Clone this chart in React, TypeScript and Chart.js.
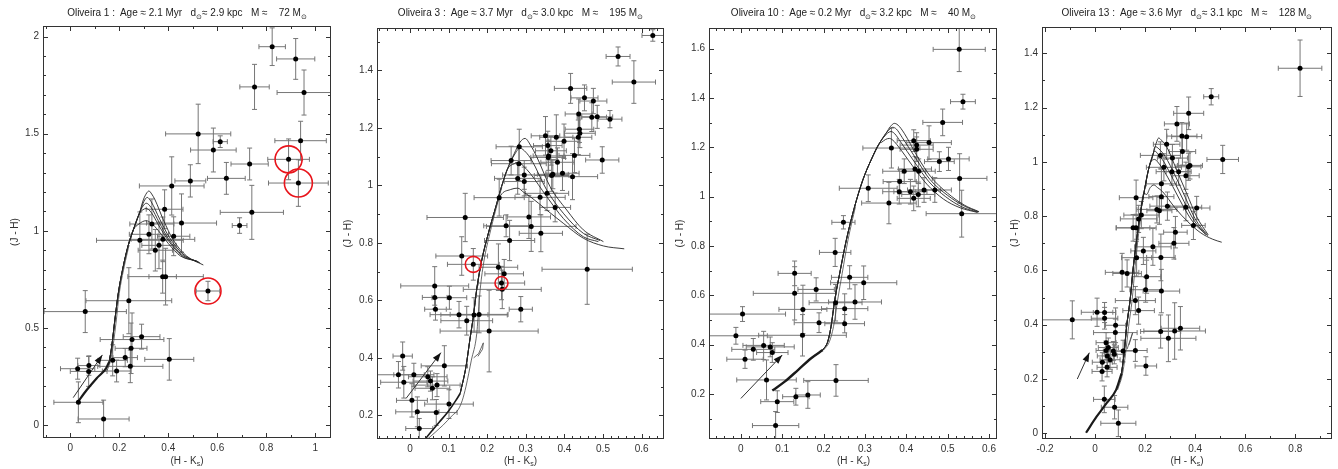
import React, { useEffect, useRef } from "react";
import { Chart, registerables } from "chart.js";
Chart.register(...registerables);

type Pt = [number, number];
const H = 469;
const FONT = '"Liberation Sans", Arial, sans-serif';

// ---------------- Oliveira 1 ----------------
const P1_HK = [0.824, 0.920, 0.752, 0.954, 0.522, 0.612, 0.584, 0.940, 0.891, 0.732, 0.931, 0.637, 0.490, 0.414, 0.741, 0.691, 0.385, 0.454, 0.333, 0.321, 0.422, 0.284, 0.378, 0.362, 0.347, 0.377, 0.389, 0.562, 0.239, 0.061, 0.291, 0.252, 0.248, 0.224, 0.404, 0.173, 0.189, 0.245, 0.076, 0.030, 0.075, 0.033, 0.136];
const P1_JH = [1.948, 1.885, 1.741, 1.712, 1.499, 1.459, 1.416, 1.464, 1.368, 1.344, 1.246, 1.270, 1.257, 1.231, 1.095, 1.027, 1.111, 1.040, 1.035, 0.982, 0.972, 0.951, 0.956, 0.925, 0.900, 0.764, 0.764, 0.690, 0.640, 0.584, 0.455, 0.440, 0.395, 0.347, 0.338, 0.333, 0.278, 0.302, 0.306, 0.290, 0.276, 0.117, 0.031];
const P1_EHK = [0.054, 0.078, 0.060, 0.110, 0.133, 0.029, 0.093, 0.105, 0.085, 0.076, 0.122, 0.077, 0.063, 0.132, 0.129, 0.030, 0.075, 0.143, 0.090, 0.080, 0.066, 0.177, 0.130, 0.070, 0.070, 0.056, 0.154, 0.048, 0.175, 0.168, 0.075, 0.130, 0.065, 0.050, 0.100, 0.060, 0.058, 0.133, 0.045, 0.070, 0.075, 0.100, 0.104];
const P1_EJH = [0.097, 0.105, 0.116, 0.116, 0.153, 0.030, 0.113, 0.100, 0.105, 0.082, 0.120, 0.082, 0.083, 0.150, 0.139, 0.040, 0.100, 0.150, 0.129, 0.100, 0.100, 0.146, 0.115, 0.120, 0.107, 0.085, 0.146, 0.050, 0.170, 0.108, 0.064, 0.137, 0.130, 0.047, 0.107, 0.080, 0.056, 0.084, 0.050, 0.054, 0.077, 0.105, 0.097];
const P1_RED_HK = [0.891, 0.931, 0.562];
const P1_RED_JH = [1.368, 1.246, 0.690];
const P1_ARROW_HK = [0.012, 0.131];
const P1_ARROW_JH = [0.141, 0.361];
const P1_ISO_LOW: Pt[] = [[0.030, 0.117], [0.067, 0.180], [0.107, 0.240], [0.146, 0.292], [0.159, 0.326]];
const P1_ISO_STEEP: Pt[] = [[0.159, 0.326], [0.169, 0.403], [0.182, 0.541], [0.196, 0.678], [0.216, 0.815], [0.237, 0.927], [0.257, 1.004], [0.282, 1.090]];
const P1_ISO_BAND: Pt[] = [[0.150, 0.280], [0.163, 0.326], [0.174, 0.403], [0.188, 0.541], [0.200, 0.678], [0.220, 0.815], [0.240, 0.927]];
const P1_ISO_1: Pt[] = [[0.298, 1.159], [0.312, 1.195], [0.321, 1.205], [0.332, 1.190], [0.346, 1.159], [0.380, 1.056], [0.420, 0.953], [0.475, 0.870], [0.543, 0.824]];
const P1_ISO_2: Pt[] = [[0.300, 1.150], [0.314, 1.172], [0.330, 1.150], [0.365, 1.060], [0.405, 0.965], [0.460, 0.880], [0.530, 0.834]];
const P1_ISO_3: Pt[] = [[0.297, 1.128], [0.310, 1.142], [0.330, 1.120], [0.362, 1.045], [0.400, 0.960], [0.455, 0.878], [0.525, 0.838]];
const P1_ISO_4: Pt[] = [[0.296, 1.108], [0.310, 1.115], [0.330, 1.095], [0.360, 1.030], [0.400, 0.950], [0.455, 0.872], [0.520, 0.842]];
const P1_ISO_5: Pt[] = [[0.280, 1.035], [0.309, 1.052], [0.330, 1.040], [0.360, 1.000], [0.400, 0.935], [0.450, 0.870], [0.515, 0.845]];
const P1_XTICKS = [0, 0.2, 0.4, 0.6, 0.8, 1];
const P1_YTICKS = [0, 0.5, 1, 1.5, 2];

// ---------------- Oliveira 3 ----------------
const P2_HK = [0.629, 0.539, 0.580, 0.416, 0.452, 0.475, 0.437, 0.471, 0.485, 0.518, 0.439, 0.440, 0.436, 0.351, 0.379, 0.357, 0.399, 0.283, 0.365, 0.359, 0.358, 0.426, 0.498, 0.262, 0.382, 0.282, 0.370, 0.367, 0.395, 0.421, 0.296, 0.279, 0.296, 0.231, 0.337, 0.355, 0.376, 0.143, 0.308, 0.314, 0.249, 0.339, 0.258, 0.134, 0.164, 0.459, 0.229, 0.244, 0.237, 0.239, 0.064, 0.064, 0.102, 0.066, 0.287, 0.127, 0.166, 0.179, 0.147, 0.205, -0.019, -0.030, 0.010, -0.016, 0.089, 0.046, 0.053, 0.058, 0.070, 0.005, 0.101, 0.019, 0.068, 0.024];
const P2_JH = [1.521, 1.448, 1.359, 1.337, 1.304, 1.293, 1.248, 1.237, 1.238, 1.230, 1.195, 1.181, 1.167, 1.172, 1.167, 1.138, 1.153, 1.134, 1.120, 1.102, 1.097, 1.104, 1.088, 1.086, 1.080, 1.075, 1.038, 1.034, 1.042, 1.030, 1.036, 1.024, 1.013, 0.957, 0.958, 0.972, 0.923, 0.888, 0.890, 0.857, 0.859, 0.833, 0.808, 0.754, 0.725, 0.708, 0.715, 0.692, 0.660, 0.638, 0.650, 0.610, 0.609, 0.569, 0.569, 0.550, 0.549, 0.551, 0.529, 0.493, 0.406, 0.341, 0.341, 0.315, 0.372, 0.334, 0.319, 0.294, 0.305, 0.252, 0.239, 0.212, 0.210, 0.154];
const P2_EHK = [0.028, 0.031, 0.056, 0.042, 0.035, 0.035, 0.035, 0.038, 0.040, 0.031, 0.037, 0.040, 0.035, 0.037, 0.043, 0.037, 0.041, 0.060, 0.040, 0.040, 0.045, 0.040, 0.043, 0.052, 0.043, 0.071, 0.040, 0.045, 0.043, 0.065, 0.056, 0.060, 0.052, 0.065, 0.065, 0.056, 0.040, 0.099, 0.056, 0.116, 0.058, 0.056, 0.065, 0.067, 0.067, 0.117, 0.050, 0.050, 0.060, 0.101, 0.088, 0.032, 0.045, 0.028, 0.030, 0.075, 0.086, 0.075, 0.067, 0.127, 0.025, 0.067, 0.052, 0.060, 0.060, 0.050, 0.045, 0.045, 0.060, 0.040, 0.063, 0.056, 0.054, 0.035];
const P2_EJH = [0.020, 0.033, 0.074, 0.052, 0.045, 0.044, 0.052, 0.050, 0.040, 0.030, 0.046, 0.050, 0.060, 0.067, 0.078, 0.050, 0.060, 0.061, 0.050, 0.050, 0.060, 0.060, 0.046, 0.050, 0.050, 0.058, 0.050, 0.055, 0.060, 0.080, 0.050, 0.055, 0.050, 0.064, 0.060, 0.060, 0.050, 0.084, 0.075, 0.087, 0.038, 0.064, 0.070, 0.067, 0.055, 0.122, 0.081, 0.050, 0.058, 0.067, 0.067, 0.040, 0.040, 0.038, 0.044, 0.046, 0.060, 0.064, 0.050, 0.142, 0.049, 0.046, 0.040, 0.055, 0.070, 0.035, 0.035, 0.040, 0.040, 0.058, 0.050, 0.052, 0.045, 0.035];
const P2_RED_HK = [0.164, 0.237];
const P2_RED_JH = [0.725, 0.660];
const P2_ARROW_HK = [-0.010, 0.080];
const P2_ARROW_JH = [0.259, 0.418];
const P2_ISO_LOW: Pt[] = [[0.039, 0.117], [0.075, 0.175], [0.100, 0.215], [0.118, 0.250], [0.130, 0.276]];
const P2_ISO_STEEP: Pt[] = [[0.130, 0.276], [0.145, 0.369], [0.155, 0.462], [0.164, 0.543], [0.173, 0.640], [0.186, 0.740], [0.203, 0.833], [0.220, 0.914], [0.237, 0.995], [0.255, 1.065]];
const P2_ISO_BAND: Pt[] = [[0.045, 0.117], [0.085, 0.165], [0.110, 0.200], [0.125, 0.220], [0.135, 0.250], [0.145, 0.300], [0.159, 0.392], [0.173, 0.485], [0.177, 0.555], [0.182, 0.640], [0.192, 0.740], [0.207, 0.833], [0.222, 0.914], [0.238, 0.995]];
const P2_ISO_HOOK: Pt[] = [[0.165, 0.400], [0.178, 0.415], [0.190, 0.452], [0.188, 0.430], [0.176, 0.405]];
const P2_ISO_1: Pt[] = [[0.270, 1.110], [0.285, 1.150], [0.298, 1.163], [0.312, 1.140], [0.328, 1.100], [0.363, 0.995], [0.406, 0.914], [0.449, 0.845], [0.501, 0.804]];
const P2_ISO_2: Pt[] = [[0.270, 1.105], [0.285, 1.129], [0.300, 1.115], [0.315, 1.088], [0.354, 0.984], [0.397, 0.903], [0.449, 0.833], [0.492, 0.808]];
const P2_ISO_3: Pt[] = [[0.252, 1.055], [0.270, 1.075], [0.283, 1.079], [0.295, 1.065], [0.311, 1.042], [0.354, 0.961], [0.397, 0.885], [0.449, 0.821], [0.488, 0.804]];
const P2_ISO_4: Pt[] = [[0.235, 0.965], [0.260, 0.985], [0.279, 0.990], [0.295, 0.975], [0.311, 0.961], [0.354, 0.914], [0.397, 0.868], [0.449, 0.816], [0.501, 0.789], [0.555, 0.779]];
const P2_XTICKS = [0, 0.1, 0.2, 0.3, 0.4, 0.5, 0.6];
const P2_YTICKS = [0.2, 0.4, 0.6, 0.8, 1, 1.2, 1.4];

// ---------------- Oliveira 10 ----------------
const P3_HK = [0.528, 0.537, 0.488, 0.364, 0.418, 0.425, 0.425, 0.455, 0.502, 0.480, 0.421, 0.430, 0.395, 0.529, 0.308, 0.384, 0.410, 0.383, 0.418, 0.429, 0.443, 0.469, 0.358, 0.534, 0.248, 0.228, 0.130, 0.130, 0.263, 0.297, 0.182, 0.276, 0.150, 0.229, 0.251, 0.251, 0.189, 0.149, 0.004, -0.012, 0.055, 0.071, 0.030, 0.076, 0.010, 0.062, 0.230, 0.162, 0.133, 0.088, 0.084];
const P3_JH = [1.597, 1.385, 1.301, 1.197, 1.227, 1.209, 1.192, 1.219, 1.153, 1.142, 1.112, 1.103, 1.103, 1.074, 1.034, 1.061, 1.020, 1.020, 0.993, 1.009, 1.027, 1.027, 0.974, 0.931, 0.896, 0.774, 0.689, 0.608, 0.673, 0.651, 0.624, 0.573, 0.543, 0.570, 0.546, 0.485, 0.489, 0.438, 0.524, 0.436, 0.397, 0.391, 0.381, 0.368, 0.341, 0.257, 0.255, 0.196, 0.189, 0.169, 0.072];
const P3_EHK = [0.063, 0.030, 0.048, 0.069, 0.040, 0.040, 0.040, 0.054, 0.050, 0.036, 0.040, 0.040, 0.052, 0.066, 0.070, 0.040, 0.040, 0.040, 0.040, 0.040, 0.040, 0.040, 0.066, 0.086, 0.028, 0.038, 0.040, 0.100, 0.044, 0.080, 0.044, 0.064, 0.058, 0.064, 0.056, 0.048, 0.060, 0.106, 0.104, 0.076, 0.050, 0.058, 0.052, 0.038, 0.044, 0.072, 0.078, 0.030, 0.032, 0.040, 0.056];
const P3_EJH = [0.090, 0.030, 0.054, 0.081, 0.044, 0.050, 0.050, 0.068, 0.047, 0.040, 0.050, 0.050, 0.050, 0.100, 0.054, 0.050, 0.050, 0.050, 0.050, 0.050, 0.050, 0.050, 0.084, 0.095, 0.027, 0.057, 0.050, 0.108, 0.047, 0.068, 0.047, 0.070, 0.098, 0.074, 0.060, 0.037, 0.040, 0.084, 0.030, 0.034, 0.057, 0.040, 0.044, 0.040, 0.037, 0.081, 0.064, 0.054, 0.034, 0.044, 0.057];
const P3_ARROW_HK = [0.000, 0.100];
const P3_ARROW_JH = [0.182, 0.358];
const P3_ISO_LOW: Pt[] = [[0.076, 0.214], [0.106, 0.250], [0.138, 0.297], [0.170, 0.345], [0.198, 0.378]];
const P3_ISO_STEEP: Pt[] = [[0.198, 0.378], [0.210, 0.412], [0.218, 0.473], [0.227, 0.581], [0.239, 0.689], [0.255, 0.824], [0.275, 0.959], [0.295, 1.068], [0.315, 1.149], [0.335, 1.216], [0.351, 1.257]];
const P3_ISO_BAND: Pt[] = [[0.200, 0.378], [0.214, 0.412], [0.224, 0.473], [0.234, 0.581], [0.245, 0.689], [0.259, 0.824], [0.277, 0.959]];
const P3_ISO_1: Pt[] = [[0.362, 1.285], [0.371, 1.297], [0.380, 1.290], [0.395, 1.257], [0.427, 1.162], [0.459, 1.081], [0.500, 1.014], [0.540, 0.966], [0.576, 0.939]];
const P3_ISO_2: Pt[] = [[0.360, 1.274], [0.367, 1.281], [0.376, 1.274], [0.390, 1.240], [0.425, 1.150], [0.457, 1.070], [0.500, 1.005], [0.540, 0.962], [0.575, 0.938]];
const P3_ISO_3: Pt[] = [[0.345, 1.240], [0.355, 1.258], [0.363, 1.264], [0.372, 1.255], [0.385, 1.225], [0.420, 1.140], [0.455, 1.060], [0.495, 1.000], [0.535, 0.958], [0.573, 0.937]];
const P3_ISO_4: Pt[] = [[0.340, 1.220], [0.350, 1.232], [0.359, 1.236], [0.368, 1.228], [0.380, 1.205], [0.415, 1.125], [0.450, 1.050], [0.490, 0.990], [0.530, 0.955], [0.572, 0.936]];
const P3_XTICKS = [0, 0.1, 0.2, 0.3, 0.4, 0.5, 0.6];
const P3_YTICKS = [0.2, 0.4, 0.6, 0.8, 1, 1.2, 1.4, 1.6];

// ---------------- Oliveira 13 ----------------
const P4_HK = [0.819, 0.464, 0.374, 0.327, 0.347, 0.366, 0.286, 0.349, 0.261, 0.309, 0.510, 0.379, 0.373, 0.275, 0.307, 0.334, 0.363, 0.265, 0.164, 0.265, 0.247, 0.257, 0.289, 0.363, 0.406, 0.185, 0.174, 0.152, 0.164, 0.393, 0.321, 0.315, 0.231, 0.166, 0.193, 0.263, 0.108, 0.128, 0.206, 0.202, 0.265, 0.161, 0.174, -0.091, 0.008, 0.038, 0.038, 0.082, 0.081, 0.044, 0.262, 0.318, 0.341, 0.293, 0.053, 0.044, 0.073, 0.112, 0.161, 0.077, 0.049, 0.060, 0.029, 0.048, 0.028, 0.203, 0.037, 0.078, 0.093];
const P4_JH = [1.345, 1.240, 1.179, 1.140, 1.095, 1.093, 1.065, 1.038, 1.024, 1.014, 1.009, 0.987, 0.982, 0.980, 0.964, 0.964, 0.949, 0.919, 0.868, 0.872, 0.825, 0.820, 0.837, 0.833, 0.830, 0.804, 0.790, 0.757, 0.757, 0.766, 0.741, 0.700, 0.687, 0.647, 0.672, 0.648, 0.593, 0.589, 0.577, 0.529, 0.524, 0.489, 0.452, 0.418, 0.446, 0.445, 0.424, 0.398, 0.371, 0.334, 0.375, 0.377, 0.387, 0.350, 0.316, 0.305, 0.303, 0.303, 0.305, 0.291, 0.285, 0.271, 0.262, 0.243, 0.228, 0.248, 0.125, 0.096, 0.037];
const P4_EHK = [0.087, 0.030, 0.060, 0.050, 0.060, 0.060, 0.053, 0.053, 0.080, 0.060, 0.063, 0.050, 0.050, 0.070, 0.063, 0.050, 0.053, 0.060, 0.067, 0.050, 0.080, 0.050, 0.070, 0.063, 0.053, 0.070, 0.073, 0.067, 0.080, 0.047, 0.047, 0.060, 0.073, 0.060, 0.050, 0.057, 0.067, 0.057, 0.057, 0.063, 0.073, 0.080, 0.063, 0.130, 0.063, 0.045, 0.053, 0.040, 0.087, 0.040, 0.080, 0.123, 0.077, 0.110, 0.040, 0.040, 0.040, 0.050, 0.047, 0.040, 0.040, 0.040, 0.040, 0.040, 0.040, 0.043, 0.043, 0.053, 0.070];
const P4_EJH = [0.104, 0.030, 0.060, 0.064, 0.050, 0.050, 0.055, 0.050, 0.050, 0.050, 0.052, 0.050, 0.050, 0.050, 0.050, 0.050, 0.050, 0.055, 0.065, 0.050, 0.050, 0.050, 0.052, 0.050, 0.043, 0.050, 0.050, 0.049, 0.050, 0.052, 0.058, 0.058, 0.068, 0.068, 0.050, 0.086, 0.070, 0.050, 0.061, 0.046, 0.080, 0.052, 0.050, 0.070, 0.052, 0.037, 0.040, 0.064, 0.050, 0.037, 0.061, 0.104, 0.080, 0.086, 0.035, 0.035, 0.035, 0.040, 0.040, 0.035, 0.035, 0.035, 0.035, 0.035, 0.035, 0.034, 0.049, 0.043, 0.049];
const P4_ARROW_HK = [-0.071, -0.023];
const P4_ARROW_JH = [0.200, 0.297];
const P4_ISO_LOW: Pt[] = [[-0.036, 0.002], [0.006, 0.061], [0.046, 0.111], [0.084, 0.160], [0.106, 0.221]];
const P4_ISO_STEEP: Pt[] = [[0.106, 0.221], [0.116, 0.295], [0.126, 0.393], [0.140, 0.491], [0.153, 0.614], [0.166, 0.712], [0.179, 0.798], [0.195, 0.884], [0.213, 0.970], [0.233, 1.032]];
const P4_ISO_BAND: Pt[] = [[0.090, 0.160], [0.110, 0.221], [0.122, 0.295], [0.134, 0.393], [0.148, 0.491], [0.160, 0.614], [0.171, 0.712], [0.183, 0.798]];
const P4_ISO_HOOK: Pt[] = [[0.128, 0.310], [0.150, 0.370], [0.142, 0.345], [0.135, 0.325]];
const P4_ISO_1: Pt[] = [[0.244, 1.068], [0.254, 1.088], [0.265, 1.080], [0.286, 1.056], [0.326, 0.970], [0.366, 0.884], [0.406, 0.798], [0.452, 0.731]];
const P4_ISO_2: Pt[] = [[0.236, 1.048], [0.241, 1.056], [0.255, 1.048], [0.280, 1.020], [0.320, 0.950], [0.360, 0.870], [0.400, 0.790], [0.450, 0.728]];
const P4_ISO_3: Pt[] = [[0.228, 1.020], [0.234, 1.035], [0.239, 1.040], [0.250, 1.030], [0.275, 1.000], [0.315, 0.930], [0.355, 0.855], [0.395, 0.785], [0.445, 0.730]];
const P4_ISO_4: Pt[] = [[0.222, 1.000], [0.230, 1.007], [0.238, 1.009], [0.250, 1.000], [0.270, 0.975], [0.310, 0.910], [0.350, 0.840], [0.390, 0.780], [0.440, 0.735]];
const P4_ISO_5: Pt[] = [[0.206, 0.880], [0.220, 0.905], [0.235, 0.915], [0.250, 0.905], [0.270, 0.890], [0.320, 0.830], [0.370, 0.780], [0.420, 0.740], [0.470, 0.715], [0.506, 0.704]];
const P4_XTICKS = [-0.2, 0, 0.2, 0.4, 0.6, 0.8];
const P4_YTICKS = [0, 0.2, 0.4, 0.6, 0.8, 1, 1.2, 1.4];

interface PanelCfg {
  name: string; age: string; dist: string; mass: string;
  left: number; width: number; plotL: number; plotR: number; plotT: number; plotB: number; yTitlePad: number;
  xMin: number; xMax: number; yMin: number; yMax: number;
  xTicks: number[]; yTicks: number[]; xMinor: number; yMinor: number;
  hk: number[]; jh: number[]; ehk: number[]; ejh: number[];
  isoLow: Pt[]; isoSteep: Pt[]; isoBranches: Pt[][]; isoBand: Pt[]; isoHook: Pt[] | null; lowWidth: number;
  redHK: number[]; redJH: number[]; redR: number[];
  arrowHK: number[]; arrowJH: number[];
}

const PANELS: PanelCfg[] = [
  {
    name: "Oliveira 1", age: "2.1", dist: "2.9", mass: "72",
    left: 0, width: 335, plotL: 43, plotR: 331, plotT: 26, plotB: 438, yTitlePad: 9,
    xMin: -0.1114, xMax: 1.0641, yMin: -0.0669, yMax: 2.0546,
    xTicks: P1_XTICKS, yTicks: P1_YTICKS, xMinor: 0.1, yMinor: 0.1,
    hk: P1_HK, jh: P1_JH, ehk: P1_EHK, ejh: P1_EJH,
    isoLow: P1_ISO_LOW, isoSteep: P1_ISO_STEEP, isoBranches: [P1_ISO_1, P1_ISO_2, P1_ISO_3, P1_ISO_4, P1_ISO_5],
    isoBand: P1_ISO_BAND, isoHook: null, lowWidth: 2.2,
    redHK: P1_RED_HK, redJH: P1_RED_JH, redR: [13.5, 14, 13],
    arrowHK: P1_ARROW_HK, arrowJH: P1_ARROW_JH,
  },
  {
    name: "Oliveira 3", age: "3.7", dist: "3.0", mass: "195",
    left: 335, width: 333, plotL: 377, plotR: 664, plotT: 28, plotB: 439, yTitlePad: 7,
    xMin: -0.0855, xMax: 0.658, yMin: 0.1176, yMax: 1.547,
    xTicks: P2_XTICKS, yTicks: P2_YTICKS, xMinor: 0.02, yMinor: 0.1,
    hk: P2_HK, jh: P2_JH, ehk: P2_EHK, ejh: P2_EJH,
    isoLow: P2_ISO_LOW, isoSteep: P2_ISO_STEEP, isoBranches: [P2_ISO_1, P2_ISO_2, P2_ISO_3, P2_ISO_4],
    isoBand: P2_ISO_BAND, isoHook: P2_ISO_HOOK, lowWidth: 1.6,
    redHK: P2_RED_HK, redJH: P2_RED_JH, redR: [8, 6.5],
    arrowHK: P2_ARROW_HK, arrowJH: P2_ARROW_JH,
  },
  {
    name: "Oliveira 10", age: "0.2", dist: "3.2", mass: "40",
    left: 668, width: 332, plotL: 709, plotR: 998, plotT: 28, plotB: 439, yTitlePad: 6,
    xMin: -0.0771, xMax: 0.6193, yMin: 0.0176, yMax: 1.6836,
    xTicks: P3_XTICKS, yTicks: P3_YTICKS, xMinor: 0.02, yMinor: 0.1,
    hk: P3_HK, jh: P3_JH, ehk: P3_EHK, ejh: P3_EJH,
    isoLow: P3_ISO_LOW, isoSteep: P3_ISO_STEEP, isoBranches: [P3_ISO_1, P3_ISO_2, P3_ISO_3, P3_ISO_4],
    isoBand: P3_ISO_BAND, isoHook: null, lowWidth: 2.4,
    redHK: [], redJH: [], redR: [],
    arrowHK: P3_ARROW_HK, arrowJH: P3_ARROW_JH,
  },
  {
    name: "Oliveira 13", age: "3.6", dist: "3.1", mass: "128",
    left: 1000, width: 338, plotL: 1042, plotR: 1332, plotT: 27, plotB: 439, yTitlePad: 9,
    xMin: -0.212, xMax: 0.9466, yMin: -0.021, yMax: 1.497,
    xTicks: P4_XTICKS, yTicks: P4_YTICKS, xMinor: 0.1, yMinor: 0.1,
    hk: P4_HK, jh: P4_JH, ehk: P4_EHK, ejh: P4_EJH,
    isoLow: P4_ISO_LOW, isoSteep: P4_ISO_STEEP, isoBranches: [P4_ISO_1, P4_ISO_2, P4_ISO_3, P4_ISO_4, P4_ISO_5],
    isoBand: P4_ISO_BAND, isoHook: P4_ISO_HOOK, lowWidth: 2.2,
    redHK: [], redJH: [], redR: [],
    arrowHK: P4_ARROW_HK, arrowJH: P4_ARROW_JH,
  },
];

const fmt = (v: number) => String(+(+v).toFixed(3));

function makeDecor(c: PanelCfg) {
  return {
    id: "decor",
    beforeDatasetsDraw(chart: any) {
      const { ctx, chartArea: a, scales } = chart;
      const x = scales.x, y = scales.y;
      ctx.save();
      ctx.beginPath();
      ctx.rect(a.left, a.top, a.right - a.left, a.bottom - a.top);
      ctx.clip();
      ctx.strokeStyle = "#767676";
      ctx.lineWidth = 1;
      const cap = 2.5;
      for (let i = 0; i < c.hk.length; i++) {
        const px = x.getPixelForValue(c.hk[i]);
        const py = y.getPixelForValue(c.jh[i]);
        const x0 = x.getPixelForValue(c.hk[i] - c.ehk[i]);
        const x1 = x.getPixelForValue(c.hk[i] + c.ehk[i]);
        const y0 = y.getPixelForValue(c.jh[i] - c.ejh[i]);
        const y1 = y.getPixelForValue(c.jh[i] + c.ejh[i]);
        ctx.beginPath();
        ctx.moveTo(x0, py); ctx.lineTo(x1, py);
        ctx.moveTo(x0, py - cap); ctx.lineTo(x0, py + cap);
        ctx.moveTo(x1, py - cap); ctx.lineTo(x1, py + cap);
        ctx.moveTo(px, y0); ctx.lineTo(px, y1);
        ctx.moveTo(px - cap, y0); ctx.lineTo(px + cap, y0);
        ctx.moveTo(px - cap, y1); ctx.lineTo(px + cap, y1);
        ctx.stroke();
      }
      ctx.restore();
    },
    afterDatasetsDraw(chart: any) {
      const { ctx, scales } = chart;
      const x = scales.x, y = scales.y;
      const ax0 = x.getPixelForValue(c.arrowHK[0]);
      const ay0 = y.getPixelForValue(c.arrowJH[0]);
      const ax1 = x.getPixelForValue(c.arrowHK[1]);
      const ay1 = y.getPixelForValue(c.arrowJH[1]);
      const ang = Math.atan2(ay1 - ay0, ax1 - ax0);
      const L = 9, W = 3.2;
      ctx.save();
      ctx.fillStyle = "#111";
      ctx.beginPath();
      ctx.moveTo(ax1, ay1);
      ctx.lineTo(ax1 - L * Math.cos(ang) + W * Math.sin(ang), ay1 - L * Math.sin(ang) - W * Math.cos(ang));
      ctx.lineTo(ax1 - L * Math.cos(ang) - W * Math.sin(ang), ay1 - L * Math.sin(ang) + W * Math.cos(ang));
      ctx.closePath();
      ctx.fill();
      ctx.restore();
    },
    afterDraw(chart: any) {
      const { ctx, chartArea: a, scales } = chart;
      const x = scales.x, y = scales.y;
      ctx.save();
      ctx.strokeStyle = "#333";
      ctx.lineWidth = 1;
      ctx.strokeRect(Math.round(a.left) + 0.5, Math.round(a.top) + 0.5, Math.round(a.right - a.left) - 1, Math.round(a.bottom - a.top) - 1);
      const majX = c.xTicks[1] - c.xTicks[0];
      const majY = c.yTicks[1] - c.yTicks[0];
      ctx.beginPath();
      const k0 = Math.ceil(c.xMin / c.xMinor - 1e-6), k1 = Math.floor(c.xMax / c.xMinor + 1e-6);
      for (let k = k0; k <= k1; k++) {
        const v = k * c.xMinor;
        const r = v / majX;
        const major = Math.abs(r - Math.round(r)) < 1e-6;
        const len = major ? 5 : 3;
        const px = Math.round(x.getPixelForValue(v)) + 0.5;
        ctx.moveTo(px, a.bottom); ctx.lineTo(px, a.bottom - len);
        ctx.moveTo(px, a.top); ctx.lineTo(px, a.top + len);
      }
      const m0 = Math.ceil(c.yMin / c.yMinor - 1e-6), m1 = Math.floor(c.yMax / c.yMinor + 1e-6);
      for (let k = m0; k <= m1; k++) {
        const v = k * c.yMinor;
        const r = v / majY;
        const major = Math.abs(r - Math.round(r)) < 1e-6;
        const len = major ? 5 : 3;
        const py = Math.round(y.getPixelForValue(v)) + 0.5;
        ctx.moveTo(a.left, py); ctx.lineTo(a.left + len, py);
        ctx.moveTo(a.right, py); ctx.lineTo(a.right - len, py);
      }
      ctx.stroke();
      ctx.restore();
    },
  };
}

function Panel({ c }: { c: PanelCfg }) {
  const ref = useRef<HTMLCanvasElement>(null);
  useEffect(() => {
    const toXY = (pts: Pt[]) => pts.map(([hx, jy]) => ({ x: hx, y: jy }));
    const curve = (pts: Pt[], w: number, color: string, smooth: boolean) => ({
      data: toXY(pts), showLine: true, borderColor: color, borderWidth: w, pointRadius: 0,
      cubicInterpolationMode: smooth ? "monotone" : "default", tension: smooth ? 0.4 : 0, order: 5,
    });
    const datasets: any[] = [];
    datasets.push(curve(c.isoLow, c.lowWidth, "#1a1a1a", true));
    datasets.push(curve(c.isoBand, 0.8, "#444", true));
    if (c.isoHook) datasets.push(curve(c.isoHook, 0.8, "#444", false));
    c.isoBranches.forEach((b) => {
      const full = c.isoSteep.filter((p) => p[0] < b[0][0] - 1e-9).concat(b);
      datasets.push(curve(full, 0.9, "#262626", true));
    });
    datasets.push({
      data: c.arrowHK.map((v, i) => ({ x: v, y: c.arrowJH[i] })),
      showLine: true, borderColor: "#333", borderWidth: 1, pointRadius: 0, order: 4,
    });
    datasets.push({
      data: c.hk.map((v, i) => ({ x: v, y: c.jh[i] })),
      pointRadius: 2.5, pointBackgroundColor: "#000", pointBorderWidth: 0, showLine: false, order: 2,
    });
    if (c.redHK.length) {
      datasets.push({
        data: c.redHK.map((v, i) => ({ x: v, y: c.redJH[i] })),
        pointRadius: c.redR, pointBorderColor: "#e8141b", pointBorderWidth: 1.6,
        pointBackgroundColor: "rgba(0,0,0,0)", showLine: false, order: 1, clip: false,
      });
    }
    const tickFont = { family: FONT, size: 10 };
    const chart = new Chart(ref.current!, {
      type: "scatter",
      data: { datasets },
      options: {
        animation: false,
        responsive: false,
        events: [],
        layout: { autoPadding: false, padding: { left: 0, right: c.width - (c.plotR - c.left), top: c.plotT, bottom: 0 } },
        plugins: { legend: { display: false }, tooltip: { enabled: false }, title: { display: false } },
        scales: {
          x: {
            type: "linear", min: c.xMin, max: c.xMax,
            grid: { display: false, drawTicks: false }, border: { display: false },
            ticks: { font: tickFont, color: "#333", padding: 4, maxRotation: 0, callback: (v: any) => fmt(v) },
            afterBuildTicks: (s: any) => { s.ticks = c.xTicks.map((v) => ({ value: v })); },
            afterFit: (s: any) => { s.height = H - c.plotB; },
          },
          y: {
            type: "linear", min: c.yMin, max: c.yMax,
            grid: { display: false, drawTicks: false }, border: { display: false },
            ticks: { font: tickFont, color: "#333", padding: 4, callback: (v: any) => fmt(v) },
            title: { display: true, text: "(J - H)", font: tickFont, color: "#333", padding: { top: c.yTitlePad, bottom: 0 } },
            afterBuildTicks: (s: any) => { s.ticks = c.yTicks.map((v) => ({ value: v })); },
            afterFit: (s: any) => { s.width = c.plotL - c.left; },
          },
        },
      } as any,
      plugins: [makeDecor(c) as any],
    });
    return () => chart.destroy();
  }, [c]);

  const plotW = c.plotR - c.plotL;
  const sub: React.CSSProperties = { fontSize: "7px", verticalAlign: "-3px", lineHeight: 0 };
  return (
    <>
      <canvas
        ref={ref}
        width={c.width}
        height={H}
        style={{ position: "absolute", left: c.left, top: 0, width: c.width, height: H, display: "block" }}
      />
      <div
        style={{
          position: "absolute", left: c.plotL, top: 7, width: plotW, textAlign: "center",
          font: `10px ${FONT}`, lineHeight: "12px", color: "#222", whiteSpace: "pre",
        }}
      >
        {c.name} :  Age ≈ {c.age} Myr   d<span style={sub}>⊙</span>≈ {c.dist} kpc   M ≈    {c.mass} M<span style={sub}>⊙</span>
      </div>
      <div
        style={{
          position: "absolute", left: c.plotL, top: 455, width: plotW, textAlign: "center",
          font: `10px ${FONT}`, lineHeight: "12px", color: "#333", whiteSpace: "pre",
        }}
      >
        (H - K<span style={{ fontSize: "7px", verticalAlign: "-2px", lineHeight: 0 }}>s</span>)
      </div>
    </>
  );
}

export default function App() {
  return (
    <div style={{ position: "absolute", left: 0, top: 0, width: 1338, height: H, background: "#fff", overflow: "hidden" }}>
      {PANELS.map((c) => (
        <Panel key={c.name} c={c} />
      ))}
    </div>
  );
}
